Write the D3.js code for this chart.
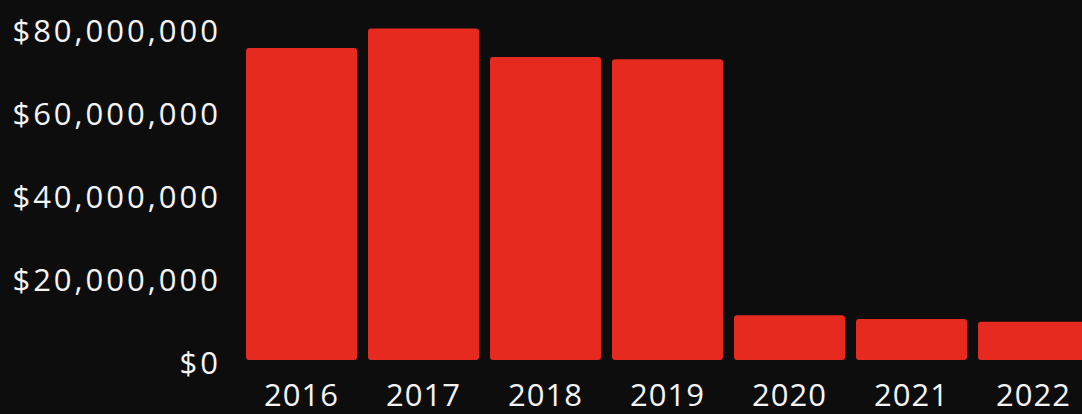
<!DOCTYPE html>
<html>
<head>
<meta charset="utf-8">
<style>
body { margin: 0; background: #0d0d0d; }
.axis text { fill: #f4f4f4; font-family: "Open Sans", sans-serif; }
.yaxis text { font-size: 31px; letter-spacing: 3px; }
.xaxis text { font-size: 31px; letter-spacing: 1px; }
</style>
</head>
<body>
<div id="chart"></div>
<script src="https://d3js.org/d3.v7.min.js"></script>
<script>
// values
var years = ["2016", "2017", "2018", "2019", "2020", "2021", "2022"];
var amounts = [75200000, 79900000, 73000000, 72500000, 10800000, 9900000, 9200000];
var yTicks = [0, 20000000, 40000000, 60000000, 80000000];

var W = 1082, H = 414;

var svg = d3.select("#chart")
  .append("svg")
    .attr("width", W)
    .attr("height", H)
    .style("display", "block");

svg.append("rect")
  .attr("width", W)
  .attr("height", H)
  .attr("fill", "#0d0d0d");

// x: bands, the last one runs off the right edge like in the original
var x = d3.scaleBand()
  .domain(years)
  .range([240.5, 1094.5])
  .paddingInner(0.09)
  .paddingOuter(0.045);

var y = d3.scaleLinear()
  .domain([0, 80000000])
  .range([360, 28]);

// bars
svg.selectAll(".bar")
  .data(years)
  .enter()
  .append("rect")
    .attr("class", "bar")
    .attr("x", function(d) { return x(d); })
    .attr("y", function(d, i) { return y(amounts[i]); })
    .attr("width", x.bandwidth())
    .attr("height", function(d, i) { return y(0) - y(amounts[i]); })
    .attr("rx", 3)
    .attr("fill", "#e62a1f");

// y axis labels
var yAxis = svg.append("g")
  .attr("class", "axis yaxis")
  .attr("transform", "translate(221,4)")
  .call(d3.axisLeft(y).tickValues(yTicks).tickSize(0).tickPadding(0).tickFormat(d3.format("$,")));
yAxis.select(".domain").remove();

// x axis labels
var xAxis = svg.append("g")
  .attr("class", "axis xaxis")
  .attr("transform", "translate(0,360)")
  .call(d3.axisBottom(x).tickSize(0).tickPadding(0));
xAxis.select(".domain").remove();
xAxis.selectAll("text").attr("dy", null).attr("y", 46);
</script>
</body>
</html>
